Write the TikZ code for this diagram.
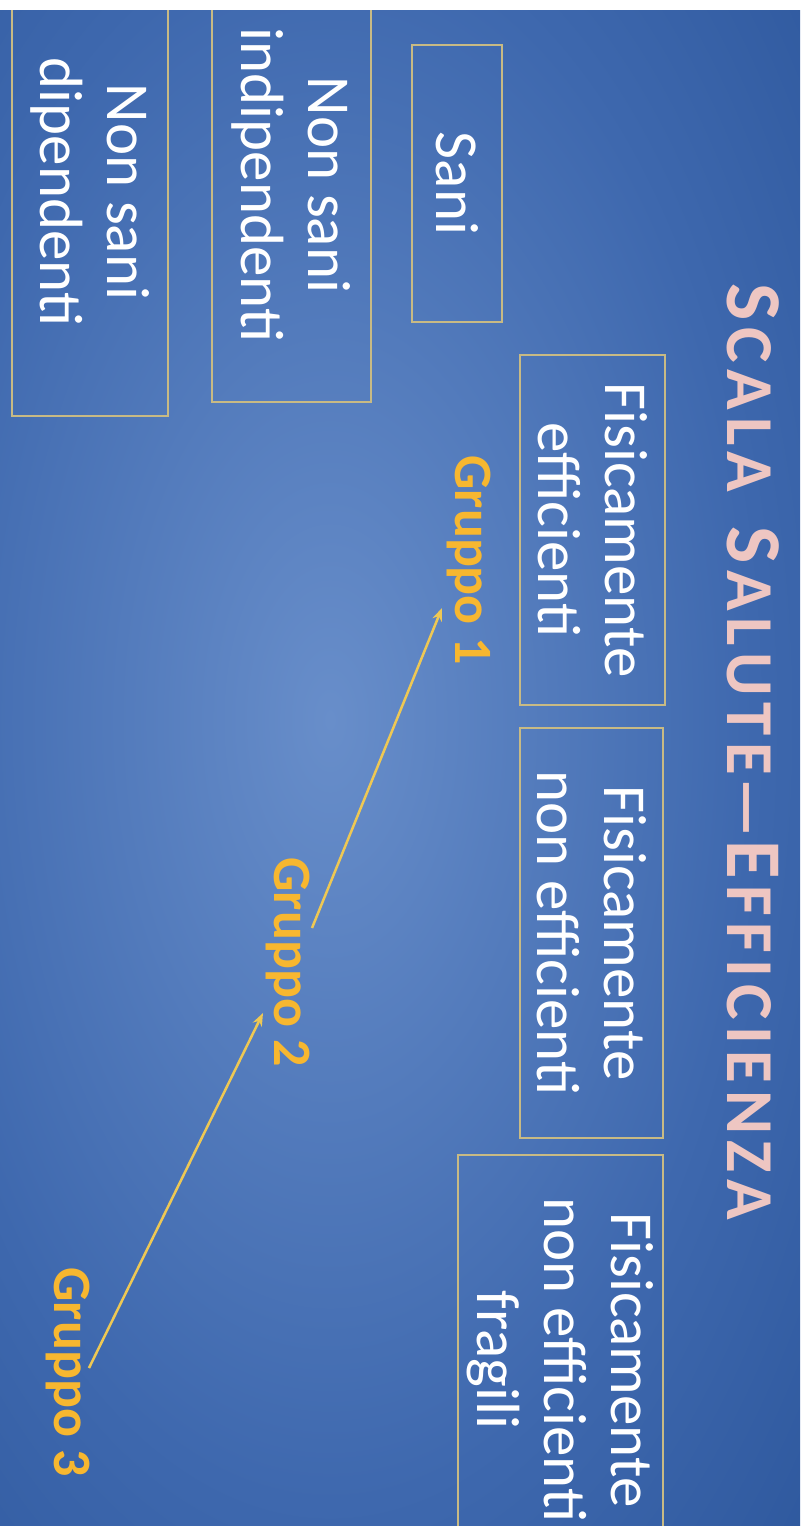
\documentclass[tikz,border=0pt]{standalone}
\usepackage{fontspec}
\setmainfont{Carlito}
\usetikzlibrary{calc,arrows.meta}
\definecolor{bglight}{RGB}{104,142,202}
\definecolor{bgmid}{RGB}{62,104,174}
\definecolor{bgdark}{RGB}{20,62,130}
\definecolor{boxline}{RGB}{200,186,132}
\definecolor{titlepink}{RGB}{238,198,194}
\definecolor{grporange}{RGB}{247,183,48}
\definecolor{arrowyellow}{RGB}{238,200,84}
\pgfdeclareradialshading{slidebg}{\pgfpoint{0bp}{0bp}}{color(0bp)=(bglight); color(20bp)=(bgmid); color(50bp)=(bgdark)}
\newcommand{\ls}{\kern6.6pt}
\newcommand{\tbig}[1]{{\fontsize{79}{80}\selectfont #1}}
\newcommand{\tsm}[1]{{\fontsize{67}{70}\selectfont #1}}
\tikzset{
  slidebox/.style={draw=boxline, line width=2pt, rotate=-90, text=white,
    font=\fontsize{61}{67}\selectfont, align=center, inner sep=0pt},
  grp/.style={rotate=-90, text=grporange, font=\bfseries\fontsize{54}{60}\selectfont,
    inner sep=0pt, anchor=base},
  conn/.style={draw=arrowyellow, line width=2.5pt, -{Stealth[length=13pt,width=10pt]}},
  title/.style={rotate=-90, text=titlepink, font=\bfseries, inner sep=0pt, anchor=base}
}
\begin{document}
\begin{tikzpicture}[x=1pt,y=-1pt]
\useasboundingbox (0,0) rectangle (805,1526);
\fill[white] (0,0) rectangle (805,1526);
\begin{scope}
\clip (0,10) rectangle (800,1526);
\shade[shading=slidebg] (-200,-260) rectangle (860,1700);

\node[title] (title) at (727,752) {\tbig{S}\ls\tsm{C\ls A\ls L\ls A}\hspace{34pt}\tbig{S}\ls\tsm{A\ls L\ls U\ls T\ls E\kern2pt—\kern2pt}\tbig{E}\ls\tsm{F\ls F\ls I\ls C\ls I\ls E\ls N\ls Z\ls A}};

\node[slidebox, minimum width=277pt, minimum height=90pt] (sani) at (457,183.5) {Sani};
\node[slidebox, minimum width=434pt, minimum height=159pt] (nsi) at (291.5,185) {Non sani\\indipendenti};
\node[slidebox, minimum width=448pt, minimum height=156pt] (nsd) at (90,192) {Non sani\\dipendenti};
\node[slidebox, minimum width=350pt, minimum height=145pt] (fe) at (592.5,530) {Fisicamente\\efficienti};
\node[slidebox, minimum width=410pt, minimum height=143pt] (fne) at (591.5,933) {Fisicamente\\non efficienti};
\node[slidebox, minimum width=410pt, minimum height=205pt] (fnef) at (560.5,1360) {Fisicamente\\non efficienti\\fragili};

\node[grp] (g1) at (455,560) {Gruppo 1};
\node[grp] (g2) at (274,962) {Gruppo 2};
\node[grp] (g3) at (54,1372) {Gruppo 3};

\draw[conn] ($(g2.base)+(38,-34)$) -- ($(g1.base)+(-13,48)$);
\draw[conn] ($(g3.base)+(35,-4)$) -- ($(g2.base)+(-11,51)$);
\end{scope}
\end{tikzpicture}
\end{document}
